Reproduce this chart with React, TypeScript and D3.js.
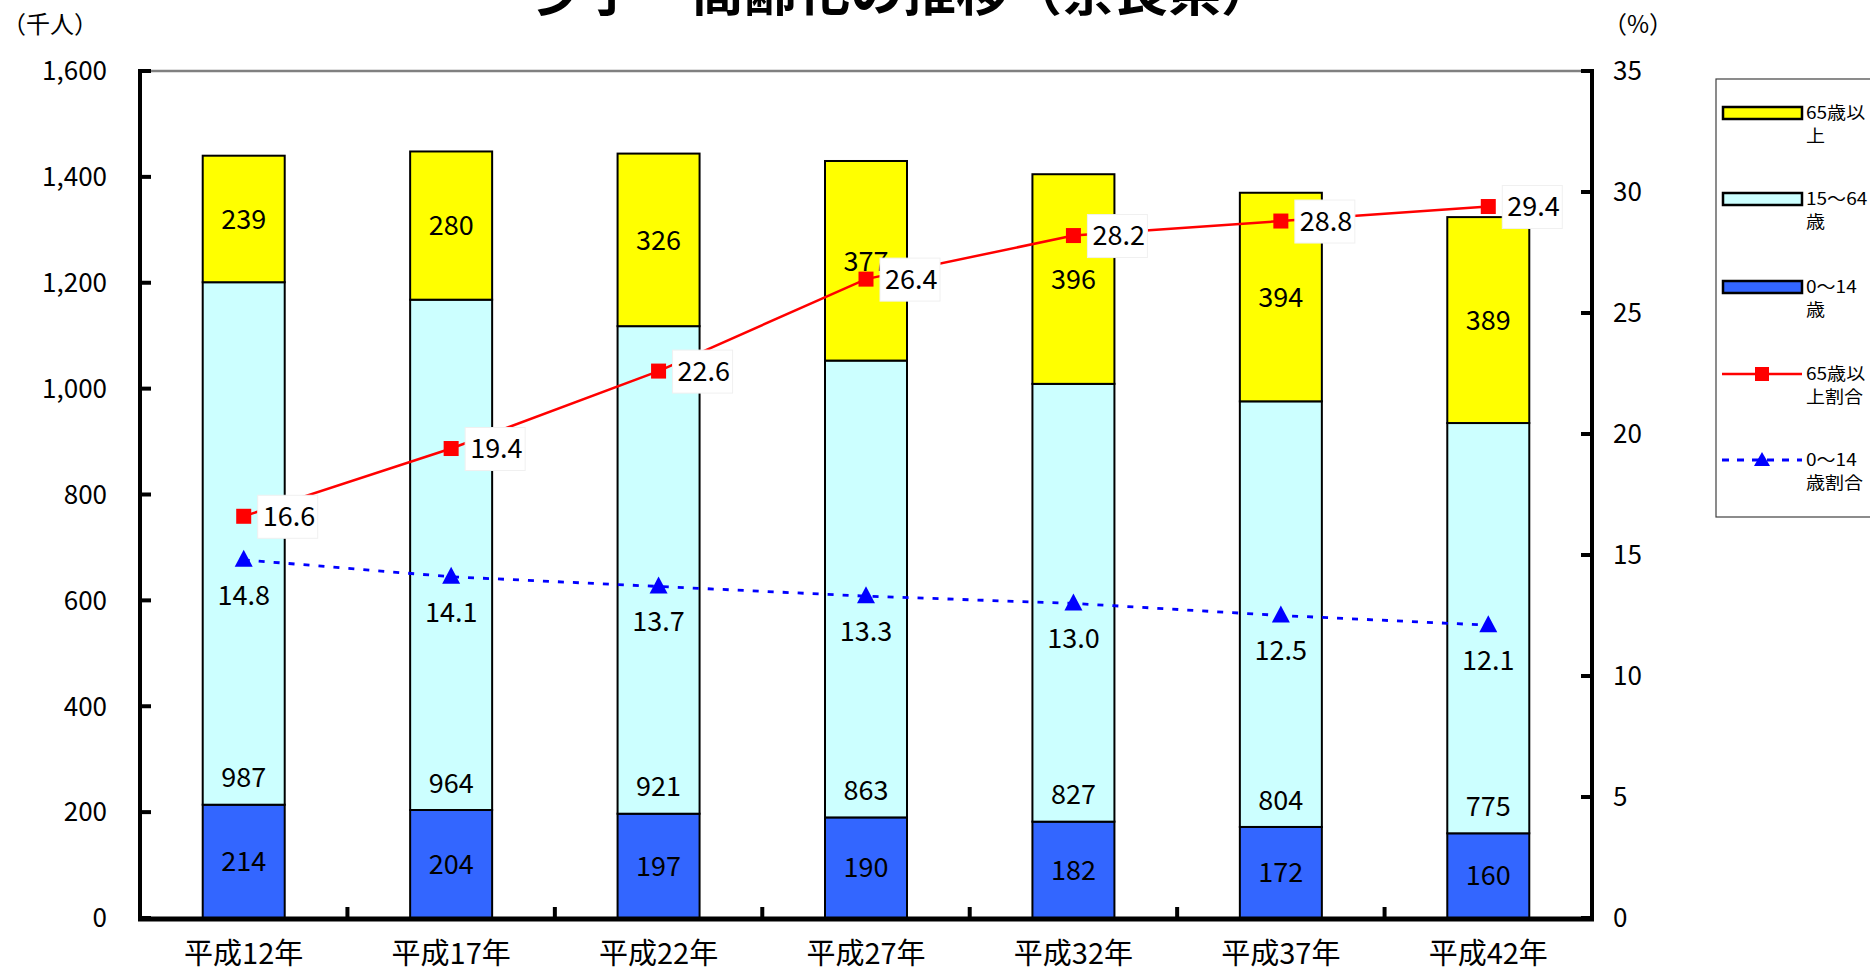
import React from 'react';
import * as d3 from 'd3';

const categories = ['平成12年', '平成17年', '平成22年', '平成27年', '平成32年', '平成37年', '平成42年'];
const age0to14 = [214, 204, 197, 190, 182, 172, 160];
const age15to64 = [987, 964, 921, 863, 827, 804, 775];
const age65plus = [239, 280, 326, 377, 396, 394, 389];
const ratio65plus = [16.6, 19.4, 22.6, 26.4, 28.2, 28.8, 29.4];
const ratio0to14 = [14.8, 14.1, 13.7, 13.3, 13.0, 12.5, 12.1];
const leftTicks = [0, 200, 400, 600, 800, 1000, 1200, 1400, 1600];
const rightTicks = [0, 5, 10, 15, 20, 25, 30, 35];

const W = 1870;
const H = 972;
const L = 140, R = 1592, T = 71, B = 918;
const FONT = '"Noto Sans CJK JP", "Noto Sans", sans-serif';

export default function App() {
  React.useEffect(() => {
    document.body.style.margin = '0';
  }, []);

  const x = d3.scaleBand<string>().domain(categories).range([L, R]).padding(0);
  const yL = d3.scaleLinear().domain([0, 1600]).range([B, T]);
  const yR = d3.scaleLinear().domain([0, 35]).range([B, T]);
  const barW = 82;
  const cx = (c: string) => (x(c) as number) + x.bandwidth() / 2;
  const fmt = d3.format(',');

  const stacks = categories.map((c, i) => {
    const a = age0to14[i], b = age15to64[i], d = age65plus[i];
    return [
      { y0: 0, y1: a, v: a, fill: '#3366FF', pos: 'center' },
      { y0: a, y1: a + b, v: b, fill: '#CCFFFF', pos: 'base' },
      { y0: a + b, y1: a + b + d, v: d, fill: '#FFFF00', pos: 'center' },
    ];
  });

  const redLine = d3.line<number>().x((_, i) => cx(categories[i])).y((v) => yR(v))(ratio65plus) || '';
  const blueLine = d3.line<number>().x((_, i) => cx(categories[i])).y((v) => yR(v))(ratio0to14) || '';

  const numFs = 27;
  const tickFs = 26;
  const catFs = 29;

  const legendItems = [
    { kind: 'bar', fill: '#FFFF00', lines: ['65歳以', '上'], y: 113 },
    { kind: 'bar', fill: '#CCFFFF', lines: ['15～64', '歳'], y: 199 },
    { kind: 'bar', fill: '#3366FF', lines: ['0～14', '歳'], y: 287 },
    { kind: 'red', fill: '#FF0000', lines: ['65歳以', '上割合'], y: 374 },
    { kind: 'blue', fill: '#0000FF', lines: ['0～14', '歳割合'], y: 460 },
  ];

  return (
    <svg width={W} height={H} style={{ position: 'absolute', left: 0, top: 0, background: '#fff' }} fontFamily={FONT}>
      <rect x={0} y={0} width={W} height={H} fill="#fff" />
      {/* title */}
      <text x={903} y={11} textAnchor="middle" fontSize={53} fontWeight={700} fill="#000">少子・高齢化の推移（奈良県）</text>
      {/* unit labels */}
      <text x={2} y={24 + 0.36 * 24} fontSize={24} fill="#000">（千人）</text>
      <text x={1603} y={24 + 0.36 * 24} fontSize={24} fill="#000">（%）</text>

      {/* bars */}
      {stacks.map((segs, i) => (
        <g key={i}>
          {segs.map((s, j) => (
            <rect key={j} x={cx(categories[i]) - barW / 2} y={yL(s.y1)} width={barW} height={yL(s.y0) - yL(s.y1)}
              fill={s.fill} stroke="#000" strokeWidth={2} />
          ))}
        </g>
      ))}
      {/* bar labels */}
      {stacks.map((segs, i) => (
        <g key={'l' + i}>
          {segs.map((s, j) => {
            const cy = s.pos === 'center' ? (yL(s.y0) + yL(s.y1)) / 2 : yL(s.y0) - 27;
            return (
              <text key={j} x={cx(categories[i])} y={cy + 0.36 * numFs} textAnchor="middle" fontSize={numFs} fill="#000">{s.v}</text>
            );
          })}
        </g>
      ))}

      {/* plot frame */}
      <line x1={L} x2={R} y1={T} y2={T} stroke="#808080" strokeWidth={2.3} />
      <line x1={L} x2={L} y1={T - 2} y2={B + 2} stroke="#000" strokeWidth={4} />
      <line x1={R} x2={R} y1={T - 2} y2={B + 2} stroke="#000" strokeWidth={4} />
      <line x1={L - 2} x2={R + 2} y1={B + 1} y2={B + 1} stroke="#000" strokeWidth={5} />
      {leftTicks.map((t) => (
        <g key={'lt' + t}>
          <line x1={L} x2={L + 11} y1={yL(t)} y2={yL(t)} stroke="#000" strokeWidth={4} />
          <text x={107} y={yL(t) + 0.36 * tickFs} textAnchor="end" fontSize={tickFs} fill="#000">{fmt(t)}</text>
        </g>
      ))}
      {rightTicks.map((t) => (
        <g key={'rt' + t}>
          <line x1={R - 11} x2={R} y1={yR(t)} y2={yR(t)} stroke="#000" strokeWidth={4} />
          <text x={1613} y={yR(t) + 0.36 * tickFs} textAnchor="start" fontSize={tickFs} fill="#000">{t}</text>
        </g>
      ))}
      {categories.slice(1).map((c) => (
        <line key={'ct' + c} x1={x(c) as number} x2={x(c) as number} y1={B} y2={B - 11} stroke="#000" strokeWidth={4} />
      ))}
      {categories.map((c) => (
        <text key={'cl' + c} x={cx(c)} y={954 + 0.36 * catFs} textAnchor="middle" fontSize={catFs} fill="#000">{c}</text>
      ))}

      {/* lines */}
      <path d={blueLine} fill="none" stroke="#0000FF" strokeWidth={2.8} strokeDasharray="6 9" />
      <path d={redLine} fill="none" stroke="#FF0000" strokeWidth={2.5} />
      {ratio0to14.map((v, i) => {
        const px = cx(categories[i]), py = yR(v);
        return (
          <g key={'b' + i}>
            <path d={`M${px},${py - 10}L${px + 9},${py + 7}L${px - 9},${py + 7}Z`} fill="#0000FF" />
            <text x={px} y={py + 35 + 0.36 * numFs} textAnchor="middle" fontSize={numFs} fill="#000">{v.toFixed(1)}</text>
          </g>
        );
      })}
      {ratio65plus.map((v, i) => {
        const px = cx(categories[i]), py = yR(v);
        return (
          <g key={'r' + i}>
            <rect x={px - 7.5} y={py - 7.5} width={15} height={15} fill="#FF0000" />
            <rect x={px + 14} y={py - 21} width={60} height={43} fill="#fff" stroke="#f0f0f0" strokeWidth={1} />
            <text x={px + 19} y={py + 0.36 * numFs} textAnchor="start" fontSize={numFs} fill="#000">{v.toFixed(1)}</text>
          </g>
        );
      })}

      {/* legend */}
      <rect x={1716} y={79} width={200} height={438} fill="#fff" stroke="#404040" strokeWidth={1.2} />
      {legendItems.map((it, k) => (
        <g key={'lg' + k}>
          {it.kind === 'bar' && (
            <rect x={1723} y={it.y - 6} width={79} height={12} fill={it.fill} stroke="#000" strokeWidth={2.5} />
          )}
          {it.kind === 'red' && (
            <g>
              <line x1={1722} x2={1802} y1={it.y} y2={it.y} stroke="#FF0000" strokeWidth={2.5} />
              <rect x={1755} y={it.y - 7} width={14} height={14} fill="#FF0000" />
            </g>
          )}
          {it.kind === 'blue' && (
            <g>
              <line x1={1722} x2={1802} y1={it.y} y2={it.y} stroke="#0000FF" strokeWidth={2.8} strokeDasharray="7 8" />
              <path d={`M1762,${it.y - 8}L1770,${it.y + 6}L1754,${it.y + 6}Z`} fill="#0000FF" />
            </g>
          )}
          {it.lines.map((ln, j) => (
            <text key={j} transform={`translate(1806,${it.y + j * 23 + 0.36 * 17}) scale(1.12,1)`} fontSize={17} fill="#000">{ln}</text>
          ))}
        </g>
      ))}
    </svg>
  );
}
